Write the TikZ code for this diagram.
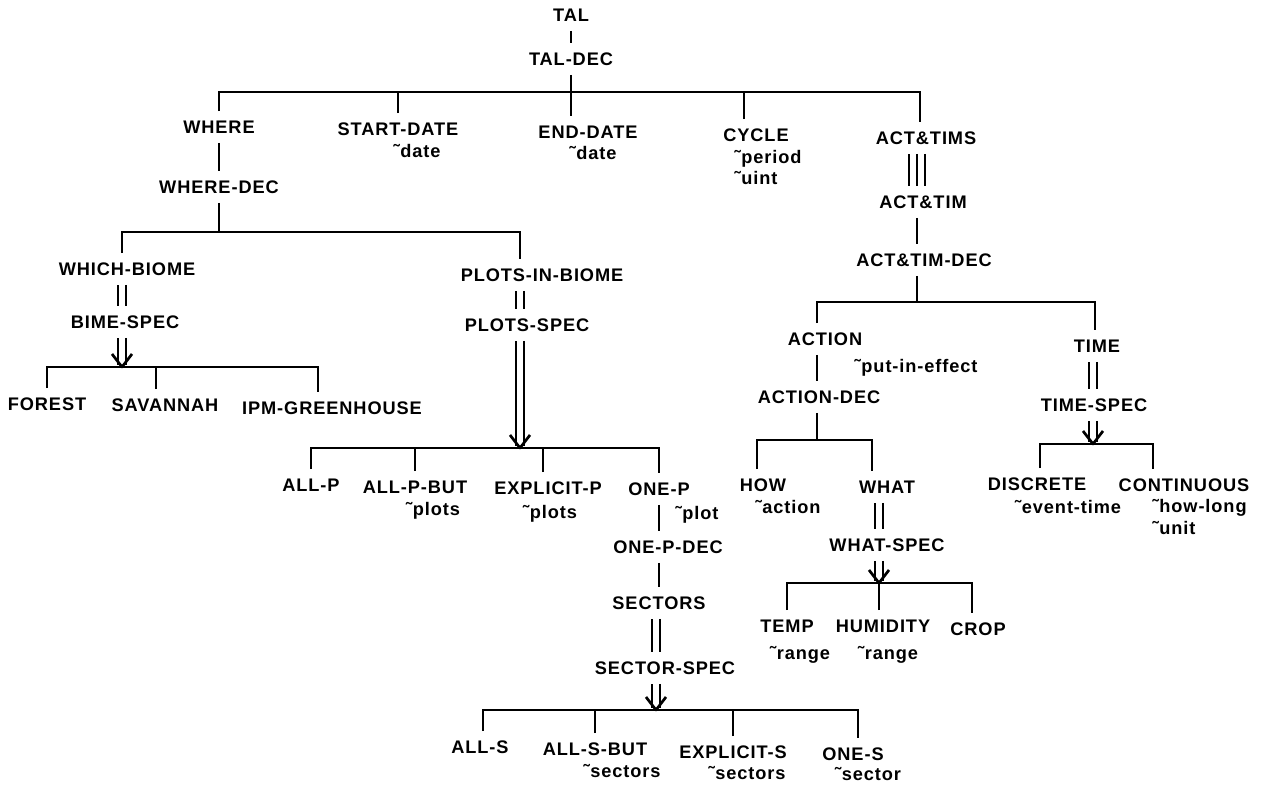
\documentclass[tikz,border=0pt]{standalone}
\usepackage{fontspec}
\setmainfont{Liberation Sans}[LetterSpace=5]

\tikzset{
  lbl/.style={font=\fontsize{9.1}{10}\selectfont\bfseries, inner xsep=1pt, inner ysep=4.5pt,
    text height=6.5pt, text depth=0pt},
  sub/.style={lbl, inner ysep=0.5pt},
  link/.style={line width=1.35pt},
  dbl/.style={link, double, double distance=2.6pt},
  tpl/.style={link, double, double distance=6.6pt},
  vtip/.style={link, line join=round},
}

\begin{document}
\begin{tikzpicture}[x=0.5pt, y=-0.5pt]
  \useasboundingbox (0,0) rectangle (1271,785);

  % root
  \node[lbl] (tal) at (571,15) {TAL};
  \node[lbl] (taldec) at (571,59) {TAL-DEC};
  \node[lbl] (where) at (219,127) {WHERE};
  \node[lbl] (startd) at (398,129) {START-DATE};
  \node[sub] (startdt) at (417,151) {˜date};
  \node[lbl] (endd) at (588,132) {END-DATE};
  \node[sub] (enddt) at (593,153) {˜date};
  \node[lbl] (cyc) at (756,135) {CYCLE};
  \node[sub, anchor=west] (cycper) at (732,157) {˜period};
  \node[sub, anchor=west] (cycuint) at (732,178) {˜uint};
  \node[lbl] (acttims) at (926,138) {ACT\&TIMS};

  \coordinate (b1) at (571,92);
  \coordinate (b1e) at (920,92);
  \draw[link] (tal) -- (taldec);
  \draw[link] (taldec) -- (taldec |- endd.north);
  \draw[link] (where.north) |- (b1e) -- (b1e |- acttims.north);
  \draw[link] (startd.north) -- (startd.north |- b1);
  \draw[link] ([xshift=-6pt]cyc.north) -- ([xshift=-6pt]cyc.north |- b1);

  % where
  \node[lbl] (wheredec) at (219,187) {WHERE-DEC};
  \node[lbl] (whichb) at (127,269) {WHICH-BIOME};
  \node[lbl] (pib) at (542,275) {PLOTS-IN-BIOME};
  \coordinate (b2) at (219,232);
  \coordinate (b2w) at (122,232);
  \coordinate (b2e) at (520,232);
  \draw[link] (where) -- (wheredec);
  \draw[link] (wheredec) -- (b2);
  \draw[link] (b2w |- whichb.north) -- (b2w) -- (b2e) -- (b2e |- pib.north);

  % biome
  \node[lbl] (bimespec) at (125,322) {BIME-SPEC};
  \node[lbl] (forest) at (47,404) {FOREST};
  \node[lbl] (savannah) at (165,405) {SAVANNAH};
  \node[lbl] (ipm) at (332,408) {IPM-GREENHOUSE};
  \coordinate (b3) at (122,367);
  \coordinate (b3e) at (318,367);
  \draw[dbl] (b2w |- whichb.south) -- (b2w |- bimespec.north);
  \draw[dbl] (b3 |- bimespec.south) -- ([yshift=1pt]b3);
  \draw[vtip] (b3) ++(-10,-13) -- (b3) -- ++(10,-13);
  \draw[link] (forest.north) |- (b3e) -- (b3e |- ipm.north);
  \draw[link] ([xshift=-4.5pt]savannah.north) -- ([xshift=-4.5pt]savannah.north |- b3);

  % plots
  \node[lbl] (pspec) at (527,325) {PLOTS-SPEC};
  \node[lbl] (allp) at (311,485) {ALL-P};
  \node[lbl] (allpbut) at (415,487) {ALL-P-BUT};
  \node[sub] (allpbutt) at (433,509) {˜plots};
  \node[lbl] (explp) at (548,488) {EXPLICIT-P};
  \node[sub] (explpt) at (550,512) {˜plots};
  \node[lbl] (onep) at (659,489) {ONE-P};
  \node[sub] (onept) at (697,513) {˜plot};
  \coordinate (b4) at (520,448);
  \coordinate (b4e) at (659,448);
  \draw[dbl] (b2e |- pib.south) -- (b2e |- pspec.north);
  \draw[dbl] (b4 |- pspec.south) -- ([yshift=1pt]b4);
  \draw[vtip] (b4) ++(-10,-13) -- (b4) -- ++(10,-13);
  \draw[link] (allp.north) |- (b4e) -- (onep.north);
  \draw[link] (allpbut.north) -- (allpbut.north |- b4);
  \draw[link] ([xshift=-2.5pt]explp.north) -- ([xshift=-2.5pt]explp.north |- b4);

  % sectors
  \node[lbl] (onepdec) at (668,547) {ONE-P-DEC};
  \node[lbl] (sectors) at (659,603) {SECTORS};
  \node[lbl] (secspec) at (665,668) {SECTOR-SPEC};
  \node[lbl] (alls) at (480,747) {ALL-S};
  \node[lbl] (allsbut) at (595,749) {ALL-S-BUT};
  \node[sub] (allsbutt) at (622,771) {˜sectors};
  \node[lbl] (expls) at (733,752) {EXPLICIT-S};
  \node[sub] (explst) at (747,773) {˜sectors};
  \node[lbl] (ones) at (853,754) {ONE-S};
  \node[sub] (onest) at (868,774) {˜sector};
  \coordinate (b5) at (656,710);
  \coordinate (b5w) at (483,710);
  \coordinate (b5e) at (858,710);
  \draw[link] (onep) -- (onep |- onepdec.north);
  \draw[link] (onep |- onepdec.south) -- (onep |- sectors.north);
  \draw[dbl] (b5 |- sectors.south) -- (b5 |- secspec.north);
  \draw[dbl] (b5 |- secspec.south) -- ([yshift=1pt]b5);
  \draw[vtip] (b5) ++(-10,-13) -- (b5) -- ++(10,-13);
  \draw[link] (b5w |- alls.north) -- (b5w) -- (b5e) -- (b5e |- ones.north);
  \draw[link] (allsbut.north) -- (allsbut.north |- b5);
  \draw[link] (expls.north) -- (expls.north |- b5);

  % act&tims
  \node[lbl] (acttim) at (923,202) {ACT\&TIM};
  \node[lbl] (acttimdec) at (924,260) {ACT\&TIM-DEC};
  \node[lbl] (action) at (825,339) {ACTION};
  \node[sub] (actiont) at (916,366) {˜put-in-effect};
  \node[lbl] (time) at (1097,346) {TIME};
  \coordinate (b6) at (917,302);
  \coordinate (b6w) at (817,302);
  \coordinate (b6e) at (1095,302);
  \draw[tpl] (b6 |- acttims.south) -- (b6 |- acttim.north);
  \draw[link] (b6 |- acttims.south) -- (b6 |- acttim.north);
  \draw[link] (b6 |- acttim.south) -- (b6 |- acttimdec.north);
  \draw[link] (b6 |- acttimdec.south) -- (b6);
  \draw[link] (b6w |- action.north) -- (b6w) -- (b6e) -- (b6e |- time.north);

  % action
  \node[lbl] (actiondec) at (819,397) {ACTION-DEC};
  \node[lbl] (how) at (763,485) {HOW};
  \node[sub] (howt) at (788,507) {˜action};
  \node[lbl] (what) at (887,487) {WHAT};
  \coordinate (b7) at (817,440);
  \coordinate (b7w) at (757,440);
  \coordinate (b7e) at (872,440);
  \draw[link] (b6w |- action.south) -- (b6w |- actiondec.north);
  \draw[link] (b7 |- actiondec.south) -- (b7);
  \draw[link] (b7w |- how.north) -- (b7w) -- (b7e) -- (b7e |- what.north);

  % what
  \node[lbl] (whatspec) at (887,545) {WHAT-SPEC};
  \node[lbl] (temp) at (787,626) {TEMP};
  \node[sub] (tempt) at (800,653) {˜range};
  \node[lbl] (humid) at (883,626) {HUMIDITY};
  \node[sub] (humidt) at (888,653) {˜range};
  \node[lbl] (crop) at (978,629) {CROP};
  \coordinate (b8) at (879,583);
  \coordinate (b8e) at (972,583);
  \draw[dbl] (b8 |- what.south) -- (b8 |- whatspec.north);
  \draw[dbl] (b8 |- whatspec.south) -- ([yshift=1pt]b8);
  \draw[vtip] (b8) ++(-10,-13) -- (b8) -- ++(10,-13);
  \draw[link] (temp.north) |- (b8e) -- (b8e |- crop.north);
  \draw[link] (b8 |- humid.north) -- (b8);

  % time
  \node[lbl] (timespec) at (1094,405) {TIME-SPEC};
  \node[lbl] (discrete) at (1037,484) {DISCRETE};
  \node[sub] (discretet) at (1068,507) {˜event-time};
  \node[lbl] (contin) at (1184,485) {CONTINUOUS};
  \node[sub, anchor=west] (continlong) at (1150,506) {˜how-long};
  \node[sub, anchor=west] (continunit) at (1150,528) {˜unit};
  \coordinate (b9) at (1093,444);
  \coordinate (b9w) at (1040,444);
  \coordinate (b9e) at (1153,444);
  \draw[dbl] (b9 |- time.south) -- (b9 |- timespec.north);
  \draw[dbl] (b9 |- timespec.south) -- ([yshift=1pt]b9);
  \draw[vtip] (b9) ++(-10,-13) -- (b9) -- ++(10,-13);
  \draw[link] (b9w |- discrete.north) -- (b9w) -- (b9e) -- (b9e |- contin.north);
\end{tikzpicture}
\end{document}
